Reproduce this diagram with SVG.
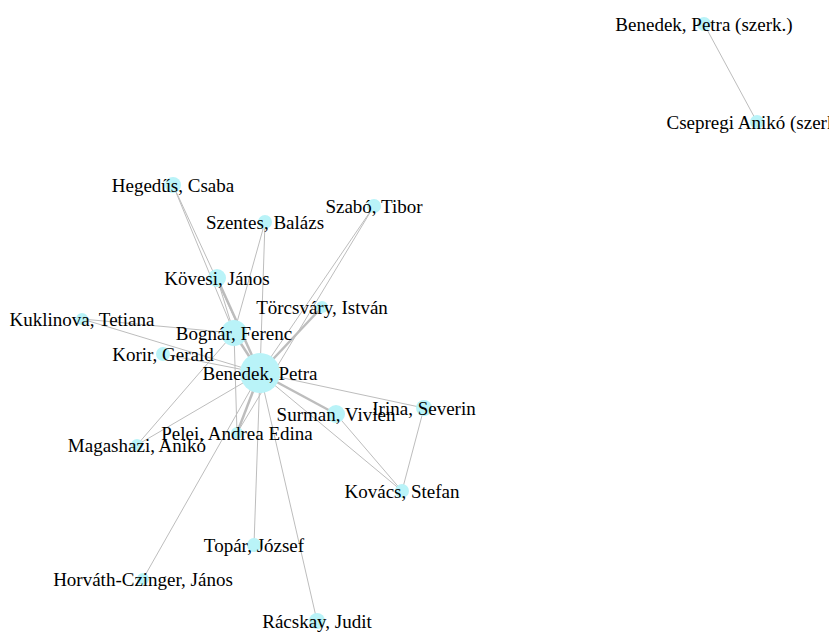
<svg xmlns="http://www.w3.org/2000/svg" width="829" height="632" viewBox="0 0 829 632">
<style>
.e{stroke:#bdbdbd;stroke-width:1;fill:none}
.t{stroke-width:2.5}
circle{fill:#b9f3f8}
.lb text{font-size:19px;fill:#000;text-anchor:middle}
</style>
<rect width="829" height="632" fill="#fff"/>
<g id="connectors">
<line class="e t" x1="260" y1="373" x2="234" y2="333"/>
<line class="e t" x1="260" y1="373" x2="217" y2="278"/>
<line class="e" x1="234" y1="333" x2="217" y2="278"/>
<line class="e" x1="260" y1="373" x2="173" y2="185"/>
<line class="e" x1="234" y1="333" x2="173" y2="185"/>
<line class="e" x1="260" y1="373" x2="265" y2="222"/>
<line class="e" x1="234" y1="333" x2="265" y2="222"/>
<line class="e" x1="260" y1="373" x2="374" y2="206"/>
<line class="e" x1="237" y1="433" x2="374" y2="206"/>
<line class="e t" x1="260" y1="373" x2="322" y2="307"/>
<line class="e" x1="260" y1="373" x2="82" y2="319"/>
<line class="e" x1="234" y1="333" x2="82" y2="319"/>
<line class="e" x1="260" y1="373" x2="163" y2="354"/>
<line class="e" x1="260" y1="373" x2="137" y2="445"/>
<line class="e" x1="234" y1="333" x2="137" y2="445"/>
<line class="e t" x1="260" y1="373" x2="237" y2="433"/>
<line class="e" x1="234" y1="333" x2="237" y2="433"/>
<line class="e t" x1="260" y1="373" x2="336" y2="414"/>
<line class="e" x1="336" y1="414" x2="402" y2="491"/>
<line class="e" x1="260" y1="373" x2="424" y2="408"/>
<line class="e" x1="424" y1="408" x2="402" y2="491"/>
<line class="e" x1="260" y1="373" x2="402" y2="491"/>
<line class="e" x1="260" y1="373" x2="254" y2="545"/>
<line class="e" x1="260" y1="373" x2="143" y2="579"/>
<line class="e" x1="260" y1="373" x2="317" y2="621"/>
<line class="e" x1="704" y1="24" x2="757" y2="122"/>
</g>
<g id="n-benedek"><circle cx="260" cy="373" r="20"/></g>
<g id="n-bognar"><circle cx="234" cy="333" r="13"/></g>
<g id="n-kovesi"><circle cx="217" cy="278" r="9"/></g>
<g id="n-hegedus"><circle cx="173" cy="185" r="8"/></g>
<g id="n-szentes"><circle cx="265" cy="222" r="7"/></g>
<g id="n-szabo"><circle cx="374" cy="206" r="7"/></g>
<g id="n-torcsvary"><circle cx="322" cy="307" r="6"/></g>
<g id="n-kuklinova"><circle cx="82" cy="319" r="6"/></g>
<g id="n-korir"><circle cx="163" cy="354" r="7"/></g>
<g id="n-magashazi"><circle cx="137" cy="445" r="6"/></g>
<g id="n-pelei"><circle cx="237" cy="433" r="6"/></g>
<g id="n-surman"><circle cx="336" cy="414" r="9"/></g>
<g id="n-irina"><circle cx="424" cy="408" r="8"/></g>
<g id="n-kovacs"><circle cx="402" cy="491" r="7"/></g>
<g id="n-topar"><circle cx="254" cy="545" r="7"/></g>
<g id="n-horvath"><circle cx="143" cy="579" r="6"/></g>
<g id="n-racskay"><circle cx="317" cy="621" r="8"/></g>
<g id="n-benedek-szerk"><circle cx="704" cy="24" r="7"/></g>
<g id="n-csepregi"><circle cx="757" cy="122" r="7"/></g>
<g id="labels" class="lb" font-family="'Liberation Serif', Tinos, 'Times New Roman', 'DejaVu Serif', serif">
<text x="260" y="380">Benedek, Petra</text>
<text x="234" y="340">Bognár, Ferenc</text>
<text x="217" y="285">Kövesi, János</text>
<text x="173" y="192">Hegedűs, Csaba</text>
<text x="265" y="229">Szentes, Balázs</text>
<text x="374" y="213">Szabó, Tibor</text>
<text x="322" y="314">Törcsváry, István</text>
<text x="82" y="326">Kuklinova, Tetiana</text>
<text x="163" y="361">Korir, Gerald</text>
<text x="137" y="452">Magashazi, Anikó</text>
<text x="237" y="440">Pelei, Andrea Edina</text>
<text x="336" y="421">Surman, Vivien</text>
<text x="424" y="415">Irina, Severin</text>
<text x="402" y="498">Kovács, Stefan</text>
<text x="254" y="552">Topár, József</text>
<text x="143" y="586">Horváth-Czinger, János</text>
<text x="317" y="628">Rácskay, Judit</text>
<text x="704" y="31">Benedek, Petra (szerk.)</text>
<text x="757" y="129">Csepregi Anikó (szerk.)</text>
</g>
</svg>
